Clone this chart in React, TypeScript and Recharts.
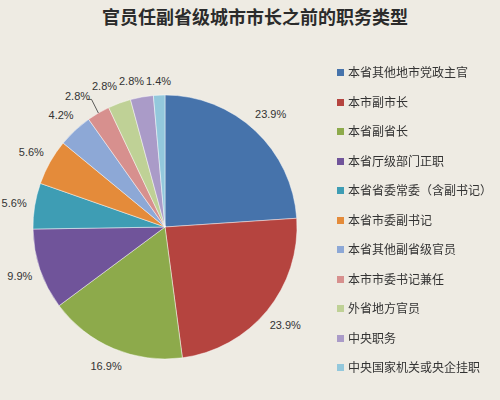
import { PieChart, Pie, Cell, Legend } from 'recharts';

const categories = [
  '本省其他地市党政主官',
  '本市副市长',
  '本省副省长',
  '本省厅级部门正职',
  '本省省委常委（含副书记）',
  '本省市委副书记',
  '本省其他副省级官员',
  '本市市委书记兼任',
  '外省地方官员',
  '中央职务',
  '中央国家机关或央企挂职',
];

const shares = [23.9, 23.9, 16.9, 9.9, 5.6, 5.6, 4.2, 2.8, 2.8, 2.8, 1.4];

const colors = [
  '#4673AB', '#B5443F', '#8DAA4B', '#70549A', '#3E9DB4', '#E48B3A',
  '#8DA8D6', '#D7908E', '#BFD196', '#AA9BC8', '#93C8DC',
];

const data = categories.map((name, i) => ({ name, value: shares[i] }));

const RAD = Math.PI / 180;
const GAP = 8;
const LH = 12;

type Box = { x: number; y: number; w: number; ex: number; ey: number; moved: boolean };

// place label boxes just outside the pie, then push crowded ones at the top apart
const layoutLabels = (cx: number, cy: number, R: number): Box[] => {
  const total = shares.reduce((a, b) => a + b, 0);
  let cum = 0;
  const boxes = shares.map((v) => {
    const mid = 90 - (360 * (cum + v / 2)) / total;
    cum += v;
    const c = Math.cos(mid * RAD);
    const s = -Math.sin(mid * RAD);
    const w = `${v.toFixed(1)}%`.length * 6;
    const r = R + GAP + Math.abs(c) * w / 2 + Math.abs(s) * LH / 2;
    let x = cx + r * c;
    if (x - w / 2 < 1) x = 1 + w / 2;
    return { x, y: cy + r * s, w, ex: cx + R * c, ey: cy + R * s, moved: false };
  });
  for (let i = boxes.length - 2; i >= 0; i--) {
    const a = boxes[i];
    const b = boxes[i + 1];
    if (a.y > cy || a.x > cx) continue;
    const overlapX = a.x + a.w / 2 > b.x - b.w / 2 - 3;
    const overlapY = Math.abs(a.y - b.y) < LH;
    if (overlapX && overlapY) {
      const nx = b.x - b.w / 2 - 3 - a.w / 2;
      a.moved = a.x - nx > 9;
      a.x = nx;
    }
  }
  return boxes;
};

let cache: Box[] | null = null;

const renderLabel = (props: any) => {
  const { cx, cy, outerRadius, value, index } = props;
  if (!cache) cache = layoutLabels(cx, cy, outerRadius);
  const b = cache[index];
  return (
    <g>
      {b.moved && (
        <polyline
          points={`${b.ex},${b.ey} ${b.x + b.w / 2 + 2},${b.y + 3} ${b.x + b.w / 2 - 2},${b.y + 3}`}
          fill="none"
          stroke="#333"
          strokeWidth={0.8}
        />
      )}
      <text x={b.x} y={b.y} fill="#333" fontSize={11} textAnchor="middle" dominantBaseline="central"
        fontFamily="'Liberation Sans', Arial, sans-serif">
        {value.toFixed(1)}%
      </text>
    </g>
  );
};

const renderLegend = () => (
  <ul style={{ listStyle: 'none', margin: 0, padding: 0 }}>
    {categories.map((c, i) => (
      <li key={c} style={{ height: 29.5, lineHeight: '29.5px', fontSize: 12, color: '#333', whiteSpace: 'nowrap' }}>
        <span style={{ display: 'inline-block', width: 7, height: 7, background: colors[i], marginRight: 4, verticalAlign: 'middle', position: 'relative', top: -1 }} />
        {c}
      </li>
    ))}
  </ul>
);

export default function App() {
  return (
    <div style={{ position: 'fixed', left: 0, top: 0, width: 500, height: 400, background: '#EEEBE3', fontFamily: "'Noto Sans CJK SC', sans-serif" }}>
      <div style={{ position: 'absolute', top: 3, left: 0, width: 510, textAlign: 'center', fontSize: 18, fontWeight: 'bold', color: '#2b2b2b' }}>
        官员任副省级城市市长之前的职务类型
      </div>
      <PieChart width={500} height={400} margin={{ top: 0, right: 0, bottom: 0, left: 0 }}>
        <Pie
          data={data}
          dataKey="value"
          nameKey="name"
          cx={165}
          cy={227}
          outerRadius={132}
          startAngle={90}
          endAngle={-270}
          stroke="rgba(255,255,255,0.45)"
          strokeWidth={1}
          label={renderLabel}
          labelLine={false}
          isAnimationActive={false}
        >
          {data.map((d, i) => (
            <Cell key={d.name} fill={colors[i]} />
          ))}
        </Pie>
        <Legend
          layout="vertical"
          align="right"
          verticalAlign="top"
          content={renderLegend}
          wrapperStyle={{ left: 337, top: 57, width: 165 }}
        />
      </PieChart>
    </div>
  );
}
